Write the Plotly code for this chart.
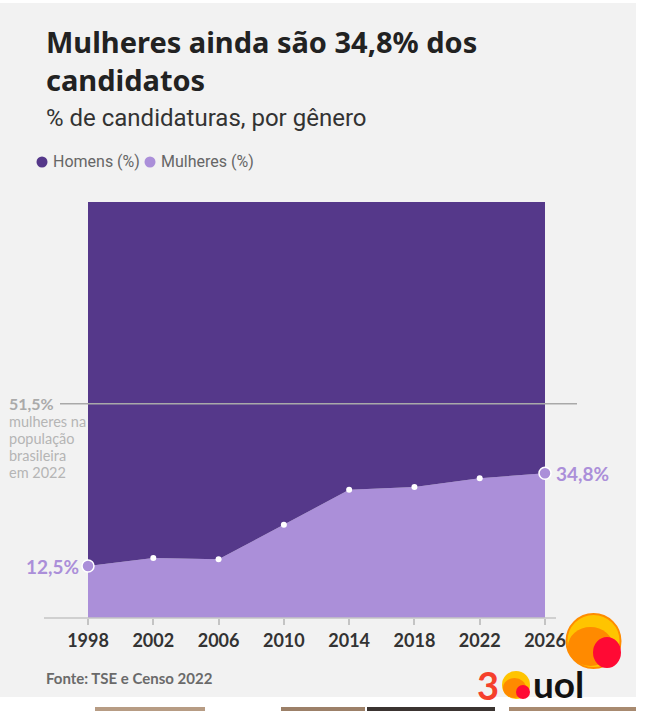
import plotly.graph_objects as go

anos = [1998, 2002, 2006, 2010, 2014, 2018, 2022, 2026]
mulheres = [12.5, 14.4, 14.1, 22.4, 30.8, 31.5, 33.6, 34.8]
homens = [87.5, 85.6, 85.9, 77.6, 69.2, 68.5, 66.4, 65.2]
populacao_mulheres = 51.5

ROXO = "#55388a"
LILAS = "#ab8fd9"
FUNDO = "#f2f2f2"

W, H = 645, 711
L, R, T, B = 88, 545, 202, 618


def px(x):
    return (x - L) / (R - L)


def py(y):
    return (B - y) / (B - T)


def circulo(cx, cy, r, cor, borda=None):
    return dict(type="circle", xref="paper", yref="paper",
                x0=px(cx - r), x1=px(cx + r), y0=py(cy + r), y1=py(cy - r),
                fillcolor=cor,
                line=dict(color=borda or cor, width=2 if borda else 0))


def elipse(x0, x1, y0, y1, cor):
    return dict(type="circle", xref="paper", yref="paper",
                x0=px(x0), x1=px(x1), y0=py(y1), y1=py(y0),
                fillcolor=cor, line=dict(width=0))


fig = go.Figure()

fig.add_trace(go.Scatter(
    x=anos, y=mulheres, stackgroup="g", mode="lines",
    line=dict(width=0, color=LILAS), fillcolor=LILAS, hoverinfo="skip",
))
fig.add_trace(go.Scatter(
    x=anos, y=homens, stackgroup="g", mode="lines",
    line=dict(width=0, color=ROXO), fillcolor=ROXO, hoverinfo="skip",
))
# pontos intermediarios
fig.add_trace(go.Scatter(
    x=anos[1:-1], y=mulheres[1:-1], mode="markers",
    marker=dict(size=6, color="white"), hoverinfo="skip",
))
# pontos das pontas
fig.add_trace(go.Scatter(
    x=[anos[0], anos[-1]], y=[mulheres[0], mulheres[-1]], mode="markers",
    marker=dict(size=12, color=LILAS, line=dict(color="white", width=1.5)),
    hoverinfo="skip", cliponaxis=False,
))

shapes = [
    # fundo cinza do card
    dict(type="rect", xref="paper", yref="paper", layer="below",
         x0=px(0), x1=px(636), y0=py(697), y1=py(3),
         fillcolor=FUNDO, line=dict(width=0)),
    # linha de base do eixo x
    dict(type="line", xref="paper", yref="paper",
         x0=px(44), x1=px(556), y0=0, y1=0,
         line=dict(color="#c4c4c4", width=1.5)),
    # referencia da populacao
    dict(type="line", xref="paper", yref="y",
         x0=px(60), x1=px(577), y0=populacao_mulheres, y1=populacao_mulheres,
         line=dict(color="#a9a9a9", width=1.5)),
    # bolinhas da legenda
    circulo(42, 162, 5.5, ROXO),
    circulo(150, 162, 5.5, LILAS),
    # logo uol
    circulo(593.5, 641, 27, "#ffc400", "#ff8c00"),
    elipse(568, 613, 627, 666, "#ff8a00"),
    elipse(593, 621, 637, 668, "#ff0a34"),
    # logo 30 uol (o zero)
    circulo(516, 685, 14, "#ffc400"),
    elipse(503, 526, 678, 698, "#ff8a00"),
    elipse(516, 530, 685, 699, "#ff0a34"),
]

# tiras de imagens cortadas no rodape
for x0, x1, cor in [(95, 205, "#b79c84"), (281, 365, "#9c8068"),
                    (367, 495, "#3b3431"), (509, 636, "#a88a70")]:
    shapes.append(dict(type="rect", xref="paper", yref="paper",
                       x0=px(x0), x1=px(x1), y0=py(711), y1=py(707),
                       fillcolor=cor, line=dict(width=0)))

annotations = [
    dict(text="<b>Mulheres ainda são 34,8% dos<br>candidatos</b>",
         x=px(44), y=py(20), xanchor="left", yanchor="top", align="left",
         font=dict(family="Noto Sans", size=29, color="#222222")),
    dict(text="% de candidaturas, por gênero",
         x=px(44), y=py(118), xanchor="left", yanchor="middle",
         font=dict(family="Roboto", size=24, color="#333333")),
    dict(text="Homens (%)", x=px(51), y=py(162), xanchor="left", yanchor="middle",
         font=dict(family="Roboto", size=16, color="#666666")),
    dict(text="Mulheres (%)", x=px(159), y=py(162), xanchor="left", yanchor="middle",
         font=dict(family="Roboto", size=16, color="#666666")),
    dict(text="<b>51,5%</b>", x=px(7), y=py(403), xanchor="left", yanchor="middle",
         font=dict(family="Lato", size=16, color="#aaaaaa")),
    dict(text="<b>12,5%</b>", x=anos[0], y=mulheres[0], xref="x", yref="y",
         xanchor="right", yanchor="middle", xshift=-7,
         font=dict(family="Lato", size=19, color=LILAS)),
    dict(text="<b>34,8%</b>", x=anos[-1], y=mulheres[-1], xref="x", yref="y",
         xanchor="left", yanchor="middle", xshift=9,
         font=dict(family="Lato", size=19, color=LILAS)),
    dict(text="<b>Fonte: TSE e Censo 2022</b>",
         x=px(44), y=py(678), xanchor="left", yanchor="middle",
         font=dict(family="Lato", size=15, color="#6a6a6a")),
    dict(text="<b>3</b>", x=px(475), y=py(685), xanchor="left", yanchor="middle",
         font=dict(family="Lato", size=38, color="#f5402c")),
    dict(text="<b>uol</b>", x=px(531), y=py(683), xanchor="left", yanchor="middle",
         font=dict(family="Lato", size=37, color="#111111")),
]
nota = ["mulheres na", "população", "brasileira", "em 2022"]
for i, linha in enumerate(nota):
    annotations.append(dict(
        text=linha, x=px(7), y=py(421 + 17 * i), xanchor="left", yanchor="middle",
        font=dict(family="Lato", size=14.5, color="#b5b5b5")))

for a in annotations:
    a.setdefault("xref", "paper")
    a.setdefault("yref", "paper")
    a.setdefault("showarrow", False)

fig.update_layout(
    width=W, height=H,
    margin=dict(l=L, r=W - R, t=T, b=H - B),
    paper_bgcolor="white", plot_bgcolor="rgba(0,0,0,0)",
    showlegend=False, hovermode=False,
    shapes=shapes, annotations=annotations,
    xaxis=dict(range=[anos[0], anos[-1]], tickvals=anos,
               ticktext=[f"<b>{a}</b>" for a in anos], showgrid=False,
               zeroline=False, showline=False, ticks="outside", ticklen=6,
               tickcolor="#c4c4c4", tickwidth=1.5,
               tickfont=dict(family="Lato", size=18, color="#333333"),
               fixedrange=True),
    yaxis=dict(range=[0, 100], visible=False, fixedrange=True),
    font=dict(family="Lato"),
)

fig.write_html("out.html", config={"displayModeBar": False},
               post_script="document.body.style.margin='0';")
